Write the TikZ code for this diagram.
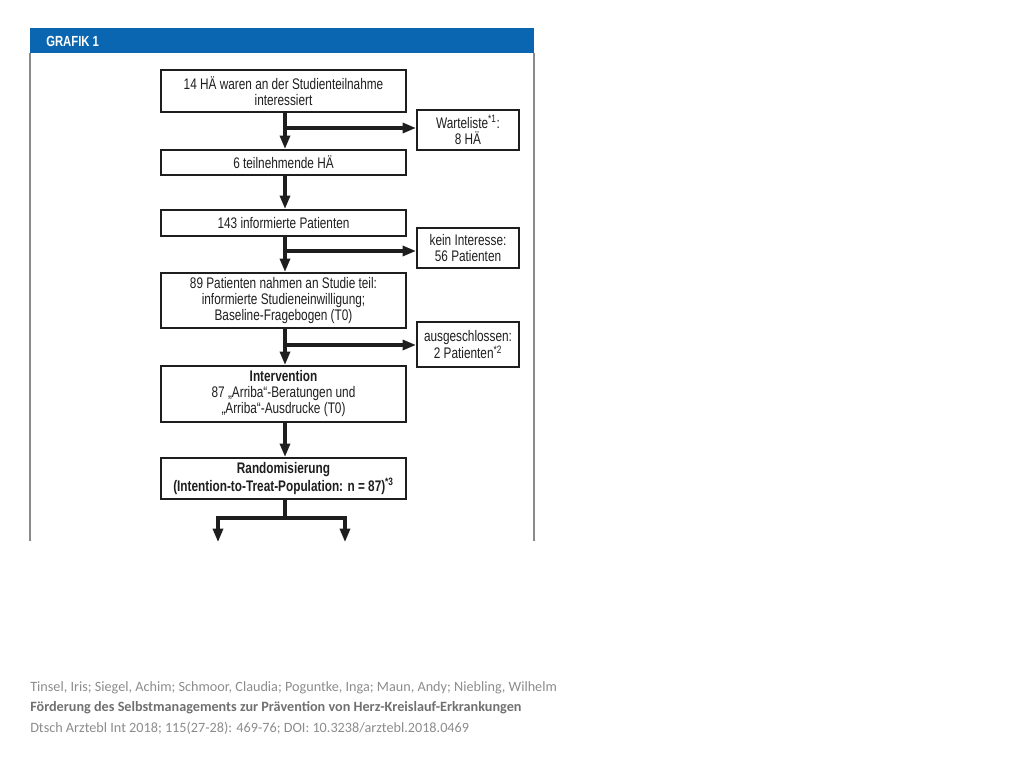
\documentclass[tikz,border=0pt]{standalone}
\usepackage{fontspec}
\setmainfont{Liberation Sans}
\newfontfamily\boxfont{Liberation Sans}[FakeStretch=0.77]
\newfontfamily\footfont{Carlito}
\usetikzlibrary{arrows.meta}
\definecolor{hdrblue}{HTML}{0A66B0}
\definecolor{frame}{HTML}{8A8A8A}
\definecolor{ink}{HTML}{1E1E1E}
\definecolor{foot}{HTML}{8C8C8C}
\definecolor{footb}{HTML}{707070}
\tikzset{
  box/.style={draw=ink, line width=1.6pt, text=ink, align=center, inner sep=0pt,
    font=\boxfont\fontsize{11.5}{12}\selectfont, minimum width=#1*0.75pt},
  box/.default=245,
  flow/.style={draw=ink, line width=2.3pt, -{Triangle[length=10pt,width=7.5pt]}},
  flowline/.style={draw=ink, line width=2.3pt},
  foottext/.style={anchor=base west, inner sep=0pt, text=foot, font=\footfont\fontsize{10.65}{12}\selectfont}
}
\begin{document}
\begin{tikzpicture}[x=0.75pt,y=-0.75pt]
\useasboundingbox (0,0) rectangle (1024,768);
% header and frame
\fill[hdrblue] (30,28) rectangle (534,53);
\node[anchor=west, inner sep=0pt, text=white, font=\boxfont\bfseries\fontsize{11}{12}\selectfont] (title) at (46,41) {GRAFIK 1};
\draw[frame, line width=0.9pt] (30,53) -- (30,541);
\draw[frame, line width=0.9pt] (534,53) -- (534,541);
% boxes
\node[box, minimum height=42*0.75pt] (b1) at (283.5,91) {14 HÄ waren an der Studienteilnahme\\interessiert};
\node[box=102, minimum height=40*0.75pt] (w) at (468,130) {Warteliste\textsuperscript{*1}:\\8 HÄ};
\node[box, minimum height=25*0.75pt] (b2) at (283.5,162.5) {6 teilnehmende HÄ};
\node[box, minimum height=26*0.75pt] (b3) at (283.5,223) {143 informierte Patienten};
\node[box=102, minimum height=40*0.75pt] (k) at (468,248) {kein Interesse:\\56 Patienten};
\node[box, minimum height=55*0.75pt] (b4) at (283.5,300.5) {89 Patienten nahmen an Studie teil:\\informierte Studieneinwilligung;\\Baseline-Fragebogen (T0)};
\node[box=102, minimum height=45*0.75pt] (a) at (468,344.5) {ausgeschlossen:\\2 Patienten\textsuperscript{*2}};
\node[box, minimum height=56*0.75pt] (b5) at (283.5,394) {\textbf{Intervention}\\87 „Arriba“-Beratungen und\\„Arriba“-Ausdrucke (T0)};
\node[box, minimum height=41*0.75pt] (b6) at (283.5,478.5) {\textbf{Randomisierung}\\\textbf{(Intention-to-Treat-Population: n = 87)\textsuperscript{*3}}};
% connectors
\draw[flow] (b1.south -| 285,0) -- (b2.north -| 285,0);
\draw[flow] (285,128) -- (w.west |- 0,128);
\draw[flow] (b2.south -| 285,0) -- (b3.north -| 285,0);
\draw[flow] (b3.south -| 285,0) -- (b4.north -| 285,0);
\draw[flow] (285,251) -- (k.west |- 0,251);
\draw[flow] (b4.south -| 285,0) -- (b5.north -| 285,0);
\draw[flow] (285,345) -- (a.west |- 0,345);
\draw[flow] (b5.south -| 285,0) -- (b6.north -| 285,0);
\coordinate (split) at (285,518);
\coordinate (lt) at (218,518);
\coordinate (rt) at (345,518);
\coordinate (le) at (218,542);
\coordinate (re) at (345,542);
\draw[flowline] (b6.south -| 285,0) -- (split);
\draw[flowline, line cap=rect] (lt) -- (rt);
\draw[flow] (lt) -- (le);
\draw[flow] (rt) -- (re);
% footer
\node[foottext] (f1) at (30,691) {Tinsel, Iris; Siegel, Achim; Schmoor, Claudia; Poguntke, Inga; Maun, Andy; Niebling, Wilhelm};
\node[foottext, text=footb, font=\footfont\bfseries\fontsize{10.65}{12}\selectfont] (f2) at (30,711) {Förderung des Selbstmanagements zur Prävention von Herz-Kreislauf-Erkrankungen};
\node[foottext] (f3) at (30,732) {Dtsch Arztebl Int 2018; 115(27-28): 469-76; DOI: 10.3238/arztebl.2018.0469};
\end{tikzpicture}
\end{document}
